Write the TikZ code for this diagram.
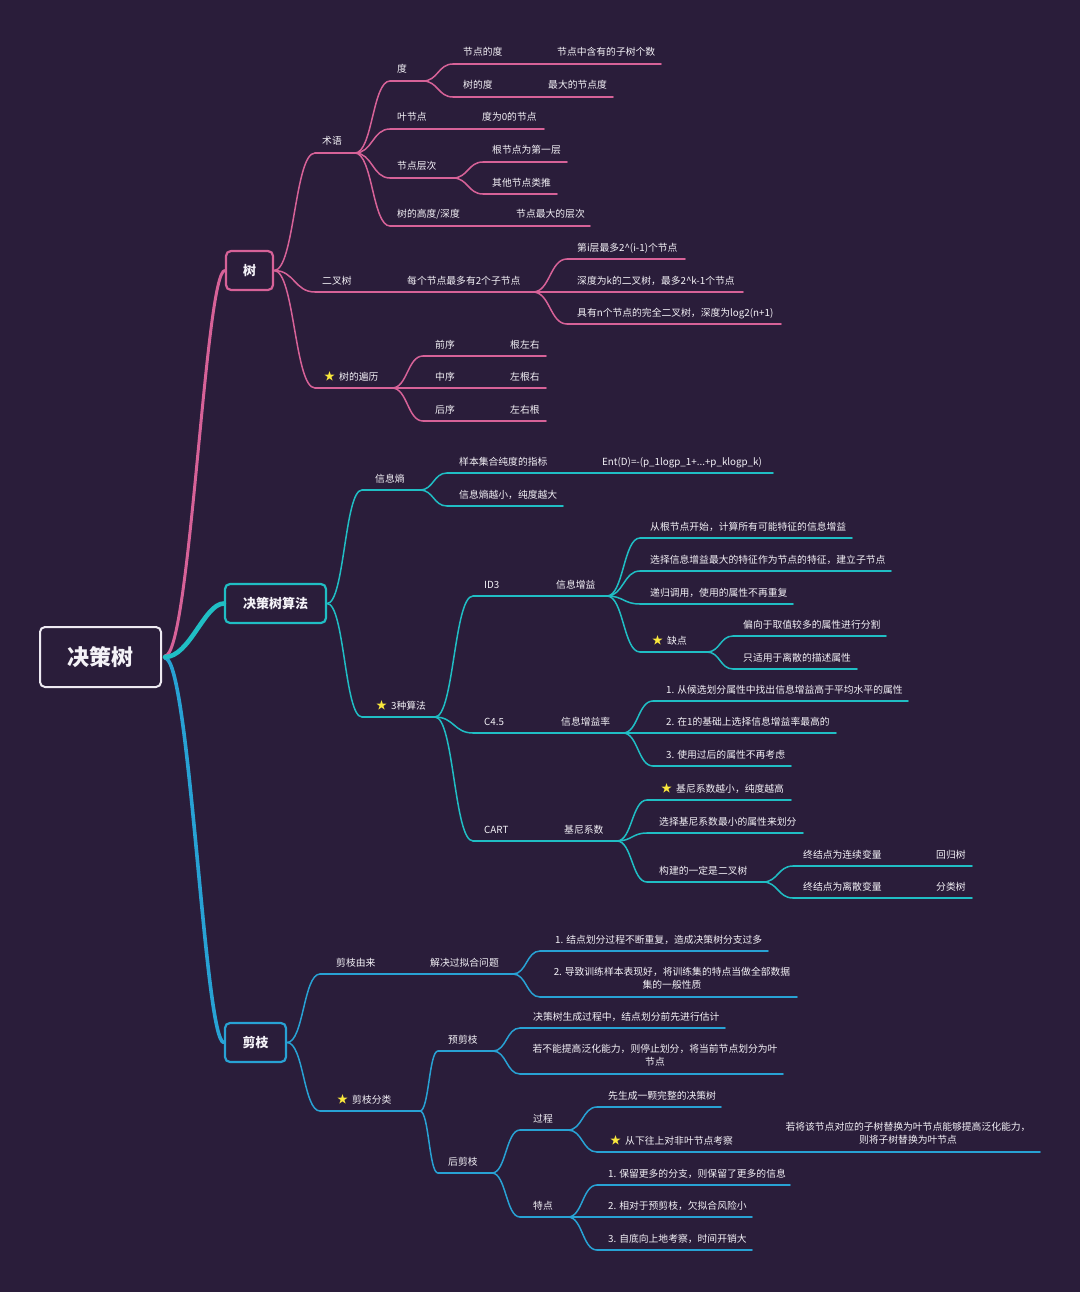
\documentclass[tikz,border=0pt]{standalone}
\usepackage{fontspec}
\setmainfont{Noto Sans CJK SC}
\usetikzlibrary{calc}
\definecolor{cBg}{RGB}{42,29,58}
\definecolor{cPink}{RGB}{215,98,152}
\definecolor{cTeal}{RGB}{32,190,196}
\definecolor{cBlue}{RGB}{40,162,212}
\definecolor{cRoot}{RGB}{238,234,242}
\definecolor{cTxt}{RGB}{244,242,247}
\definecolor{cStar}{RGB}{250,232,60}
\tikzset{
  lbl/.style={anchor=west, inner sep=0pt, text=cTxt, font=\fontsize{9.8}{12}\selectfont, text height=7.5pt, text depth=1.5pt},
  lbltwo/.style={anchor=center, inner sep=0pt, text=cTxt, align=center, font=\fontsize{9.8}{13}\selectfont},
  ul/.style={line width=1.5pt, line cap=round},
  lnk/.style={line width=1.5pt, line cap=round},
  rootlnk/.style={line cap=round},
  rootbox/.style={draw=cRoot, line width=2pt, rounded corners=5pt, minimum width=121pt, minimum height=60pt, fill=cBg, text=cTxt, font=\fontsize{22}{26}\selectfont\bfseries, inner sep=0pt},
  lonebox/.style={line width=2.2pt, rounded corners=5pt, minimum height=39pt, fill=cBg, text=cTxt, font=\fontsize{13}{16}\selectfont\bfseries, inner sep=0pt}
}
\newcommand{\mmstar}{{\fontsize{11}{12}\selectfont\color{cStar}★}\hspace{4pt}}
\newcommand{\mmtopic}[7]{%
  \coordinate (#1-s) at (#2,#4);
  \coordinate (#1-e) at (#3,#4);
  \node[lbl] (#1) at (#5,#4-11) {#6};
  \draw[ul,#7] (#1-s) -- (#1-e);}
\newcommand{\mmtopicb}[7]{%
  \coordinate (#1-s) at (#2,#4);
  \coordinate (#1-e) at (#3,#4);
  \node[lbltwo] (#1) at (#5,#4-18.5) {#6};
  \draw[ul,#7] (#1-s) -- (#1-e);}
\newcommand{\mmlink}[3]{%
  \draw[lnk,#3] let \p1=(#1), \p2=(#2) in
    (\p1) .. controls ({0.5*\x1+0.5*\x2},\y1) and ({0.5*\x1+0.5*\x2},\y2) .. (\p2);}
\newcommand{\mmroot}[4]{%
  \draw[rootlnk,#3,line width=#4] let \p1=(#1), \p2=(#2) in
    (\p1) .. controls ({0.58*\x1+0.42*\x2},\y1) and ({0.33*\x1+0.67*\x2},\y2) .. (\p2);}
\begin{document}
\begin{tikzpicture}[x=1pt,y=-1pt]
\fill[cBg] (0,0) rectangle (1080,1292);
\useasboundingbox (0,0) rectangle (1080,1292);

% root and main branches
\node[rootbox] (root) at (100.5,657) {决策树};
\node[lonebox, draw=cPink, minimum width=47pt] (L1a) at (249.5,270.5) {树};
\node[lonebox, draw=cTeal, minimum width=101pt] (L1b) at (275.5,603.5) {决策树算法};
\node[lonebox, draw=cBlue, minimum width=61pt] (L1c) at (255.5,1042.5) {剪枝};
\coordinate (rA) at ($(root.east)+(3,-1)$);
\coordinate (rB) at ($(root.east)+(3,0)$);
\coordinate (rC) at ($(root.east)+(3,1)$);
\mmroot{rA}{L1a.west}{cPink}{3pt}
\mmroot{rC}{L1c.west}{cBlue}{3.6pt}
\mmroot{rB}{L1b.west}{cTeal}{4.6pt}

% ---------- 树 ----------
\mmtopic{t1}{315}{355}{153}{322}{术语}{cPink}
\mmtopic{t11}{390}{423}{81}{397}{度}{cPink}
\mmtopic{t111}{453}{545}{64}{463}{节点的度}{cPink}
\mmtopic{t111c}{545}{661}{64}{557}{节点中含有的子树个数}{cPink}
\mmtopic{t112}{453}{538}{97}{463}{树的度}{cPink}
\mmtopic{t112c}{538}{613}{97}{548}{最大的节点度}{cPink}
\mmtopic{t12}{390}{472}{129}{397}{叶节点}{cPink}
\mmtopic{t12c}{472}{544}{129}{482}{度为0的节点}{cPink}
\mmtopic{t13}{390}{453}{178}{397}{节点层次}{cPink}
\mmtopic{t131}{483}{567}{162}{492}{根节点为第一层}{cPink}
\mmtopic{t132}{483}{557}{194}{492}{其他节点类推}{cPink}
\mmtopic{t14}{390}{505}{226}{397}{树的高度/深度}{cPink}
\mmtopic{t14c}{505}{590}{226}{516}{节点最大的层次}{cPink}
\mmtopic{t2}{315}{396}{292}{322}{二叉树}{cPink}
\mmtopic{t2c}{396}{533}{292}{407}{每个节点最多有2个子节点}{cPink}
\mmtopic{t21}{567}{685}{259}{577}{第i层最多2\textasciicircum(i-1)个节点}{cPink}
\mmtopic{t22}{567}{743}{292}{577}{深度为k的二叉树，最多2\textasciicircum k-1个节点}{cPink}
\mmtopic{t23}{567}{781}{324}{577}{具有n个节点的完全二叉树，深度为log2(n+1)}{cPink}
\mmtopic{t3}{315}{392}{388}{324}{\mmstar 树的遍历}{cPink}
\mmtopic{t31}{423}{500}{356}{435}{前序}{cPink}
\mmtopic{t31c}{500}{546}{356}{510}{根左右}{cPink}
\mmtopic{t32}{423}{500}{388}{435}{中序}{cPink}
\mmtopic{t32c}{500}{546}{388}{510}{左根右}{cPink}
\mmtopic{t33}{423}{500}{421}{435}{后序}{cPink}
\mmtopic{t33c}{500}{546}{421}{510}{左右根}{cPink}
\mmlink{L1a.east}{t1-s}{cPink}
\mmlink{L1a.east}{t2-s}{cPink}
\mmlink{L1a.east}{t3-s}{cPink}
\mmlink{t1-e}{t11-s}{cPink}
\mmlink{t1-e}{t12-s}{cPink}
\mmlink{t1-e}{t13-s}{cPink}
\mmlink{t1-e}{t14-s}{cPink}
\mmlink{t11-e}{t111-s}{cPink}
\mmlink{t11-e}{t112-s}{cPink}
\mmlink{t13-e}{t131-s}{cPink}
\mmlink{t13-e}{t132-s}{cPink}
\mmlink{t2c-e}{t21-s}{cPink}
\mmlink{t2c-e}{t22-s}{cPink}
\mmlink{t2c-e}{t23-s}{cPink}
\mmlink{t3-e}{t31-s}{cPink}
\mmlink{t3-e}{t32-s}{cPink}
\mmlink{t3-e}{t33-s}{cPink}

% ---------- 决策树算法 ----------
\mmtopic{a1}{362}{420}{490}{375}{信息熵}{cTeal}
\mmtopic{a11}{447}{590}{473}{459}{样本集合纯度的指标}{cTeal}
\mmtopic{a11c}{590}{773}{473}{602}{Ent(D)=-(p\_1logp\_1+...+p\_klogp\_k)}{cTeal}
\mmtopic{a12}{447}{563}{506}{459}{信息熵越小，纯度越大}{cTeal}
\mmtopic{a2}{362}{435}{717}{376}{\mmstar 3种算法}{cTeal}
\mmtopic{a21}{473}{546}{596}{484}{ID3}{cTeal}
\mmtopic{a21c}{546}{607}{596}{556}{信息增益}{cTeal}
\mmtopic{a211}{640}{852}{538}{650}{从根节点开始，计算所有可能特征的信息增益}{cTeal}
\mmtopic{a212}{640}{891}{571}{650}{选择信息增益最大的特征作为节点的特征，建立子节点}{cTeal}
\mmtopic{a213}{640}{793}{604}{650}{递归调用，使用的属性不再重复}{cTeal}
\mmtopic{a214}{640}{707}{652}{652}{\mmstar 缺点}{cTeal}
\mmtopic{a2141}{733}{886}{636}{743}{偏向于取值较多的属性进行分割}{cTeal}
\mmtopic{a2142}{733}{857}{669}{743}{只适用于离散的描述属性}{cTeal}
\mmtopic{a22}{473}{550}{733}{484}{C4.5}{cTeal}
\mmtopic{a22c}{550}{623}{733}{561}{信息增益率}{cTeal}
\mmtopic{a221}{653}{908}{701}{666}{1. 从候选划分属性中找出信息增益高于平均水平的属性}{cTeal}
\mmtopic{a222}{653}{836}{733}{666}{2. 在1的基础上选择信息增益率最高的}{cTeal}
\mmtopic{a223}{653}{791}{766}{666}{3. 使用过后的属性不再考虑}{cTeal}
\mmtopic{a23}{473}{553}{841}{484}{CART}{cTeal}
\mmtopic{a23c}{553}{617}{841}{564}{基尼系数}{cTeal}
\mmtopic{a231}{647}{791}{800}{661}{\mmstar 基尼系数越小，纯度越高}{cTeal}
\mmtopic{a232}{647}{803}{833}{659}{选择基尼系数最小的属性来划分}{cTeal}
\mmtopic{a233}{647}{763}{882}{659}{构建的一定是二叉树}{cTeal}
\mmtopic{a2331}{793}{925}{866}{803}{终结点为连续变量}{cTeal}
\mmtopic{a2331c}{925}{972}{866}{936}{回归树}{cTeal}
\mmtopic{a2332}{793}{925}{898}{803}{终结点为离散变量}{cTeal}
\mmtopic{a2332c}{925}{972}{898}{936}{分类树}{cTeal}
\mmlink{L1b.east}{a1-s}{cTeal}
\mmlink{L1b.east}{a2-s}{cTeal}
\mmlink{a1-e}{a11-s}{cTeal}
\mmlink{a1-e}{a12-s}{cTeal}
\mmlink{a2-e}{a21-s}{cTeal}
\mmlink{a2-e}{a22-s}{cTeal}
\mmlink{a2-e}{a23-s}{cTeal}
\mmlink{a21c-e}{a211-s}{cTeal}
\mmlink{a21c-e}{a212-s}{cTeal}
\mmlink{a21c-e}{a213-s}{cTeal}
\mmlink{a21c-e}{a214-s}{cTeal}
\mmlink{a214-e}{a2141-s}{cTeal}
\mmlink{a214-e}{a2142-s}{cTeal}
\mmlink{a22c-e}{a221-s}{cTeal}
\mmlink{a22c-e}{a222-s}{cTeal}
\mmlink{a22c-e}{a223-s}{cTeal}
\mmlink{a23c-e}{a231-s}{cTeal}
\mmlink{a23c-e}{a232-s}{cTeal}
\mmlink{a23c-e}{a233-s}{cTeal}
\mmlink{a233-e}{a2331-s}{cTeal}
\mmlink{a233-e}{a2332-s}{cTeal}

% ---------- 剪枝 ----------
\mmtopic{p1}{320}{418}{974}{336}{剪枝由来}{cBlue}
\mmtopic{p1c}{418}{513}{974}{430}{解决过拟合问题}{cBlue}
\mmtopic{p11}{540}{768}{951}{555}{1. 结点划分过程不断重复，造成决策树分支过多}{cBlue}
\mmtopicb{p12}{540}{797}{997}{672}{2. 导致训练样本表现好，将训练集的特点当做全部数据\\集的一般性质}{cBlue}
\mmtopic{p2}{320}{420}{1111}{337}{\mmstar 剪枝分类}{cBlue}
\mmtopic{p21}{438}{493}{1051}{448}{预剪枝}{cBlue}
\mmtopic{p211}{520}{725}{1028}{533}{决策树生成过程中，结点划分前先进行估计}{cBlue}
\mmtopicb{p212}{520}{783}{1074}{655}{若不能提高泛化能力，则停止划分，将当前节点划分为叶\\节点}{cBlue}
\mmtopic{p22}{438}{492}{1173}{448}{后剪枝}{cBlue}
\mmtopic{p221}{520}{568}{1130}{533}{过程}{cBlue}
\mmtopic{p2211}{597}{721}{1107}{608}{先生成一颗完整的决策树}{cBlue}
\mmtopic{p2212}{597}{745}{1152}{610}{\mmstar 从下往上对非叶节点考察}{cBlue}
\mmtopicb{p2212c}{745}{1040}{1152}{908}{若将该节点对应的子树替换为叶节点能够提高泛化能力，\\则将子树替换为叶节点}{cBlue}
\mmtopic{p222}{520}{568}{1217}{533}{特点}{cBlue}
\mmtopic{p2221}{597}{790}{1185}{608}{1. 保留更多的分支，则保留了更多的信息}{cBlue}
\mmtopic{p2222}{597}{752}{1217}{608}{2. 相对于预剪枝，欠拟合风险小}{cBlue}
\mmtopic{p2223}{597}{752}{1250}{608}{3. 自底向上地考察，时间开销大}{cBlue}
\mmlink{L1c.east}{p1-s}{cBlue}
\mmlink{L1c.east}{p2-s}{cBlue}
\mmlink{p1c-e}{p11-s}{cBlue}
\mmlink{p1c-e}{p12-s}{cBlue}
\mmlink{p2-e}{p21-s}{cBlue}
\mmlink{p2-e}{p22-s}{cBlue}
\mmlink{p21-e}{p211-s}{cBlue}
\mmlink{p21-e}{p212-s}{cBlue}
\mmlink{p22-e}{p221-s}{cBlue}
\mmlink{p22-e}{p222-s}{cBlue}
\mmlink{p221-e}{p2211-s}{cBlue}
\mmlink{p221-e}{p2212-s}{cBlue}
\mmlink{p222-e}{p2221-s}{cBlue}
\mmlink{p222-e}{p2222-s}{cBlue}
\mmlink{p222-e}{p2223-s}{cBlue}
\end{tikzpicture}
\end{document}
